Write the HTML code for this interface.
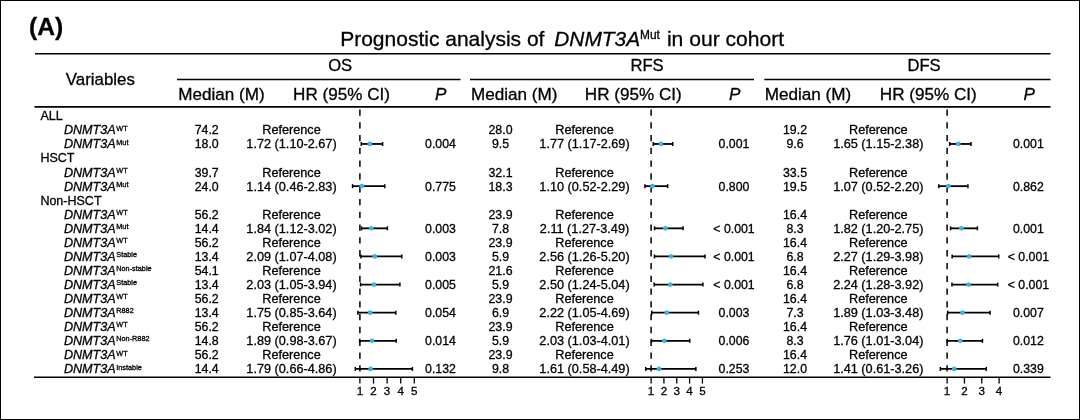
<!DOCTYPE html>
<html><head><meta charset="utf-8"><title>Prognostic analysis of DNMT3A</title>
<style>html,body{margin:0;padding:0;background:#fff;}body{width:1080px;height:420px;overflow:hidden;}svg{display:block;}</style>
</head><body>
<svg width="1080" height="420" viewBox="0 0 1080 420" font-family='"Liberation Sans", Arial, Helvetica, sans-serif'>
<style>text{stroke:#000;stroke-width:0.3px;paint-order:stroke;}</style>
<rect x="0" y="0" width="1080" height="420" fill="#fff"/>
<rect x="0.5" y="0.5" width="1079" height="419" fill="none" stroke="#000" stroke-width="1"/>
<text x="29.10" y="34.80" font-size="24.6" text-anchor="start" font-weight="bold">(A)</text>
<text x="340.20" y="45.70" font-size="21.0" text-anchor="start">Prognostic analysis of</text>
<text x="554.30" y="45.70" font-size="20.87" text-anchor="start" font-style="italic">DNMT3A</text>
<text x="640.00" y="38.50" font-size="11.9" text-anchor="start">Mut</text>
<text x="666.90" y="45.70" font-size="21.1" text-anchor="start">in our cohort</text>
<line x1="35.00" y1="53.80" x2="1050.50" y2="53.80" stroke="#000" stroke-width="1.6"/>
<line x1="177.00" y1="79.40" x2="460.50" y2="79.40" stroke="#000" stroke-width="1.5"/>
<line x1="470.00" y1="79.40" x2="754.00" y2="79.40" stroke="#000" stroke-width="1.5"/>
<line x1="764.30" y1="79.40" x2="1050.50" y2="79.40" stroke="#000" stroke-width="1.5"/>
<line x1="34.50" y1="106.90" x2="1050.50" y2="106.90" stroke="#000" stroke-width="1.6"/>
<line x1="34.00" y1="377.20" x2="1050.50" y2="377.20" stroke="#000" stroke-width="1.6"/>
<text x="65.80" y="85.00" font-size="16.87" text-anchor="start">Variables</text>
<text x="340.20" y="71.30" font-size="16.6" text-anchor="middle">OS</text>
<text x="647.00" y="71.30" font-size="16.6" text-anchor="middle">RFS</text>
<text x="924.00" y="71.30" font-size="16.6" text-anchor="middle">DFS</text>
<text x="221.50" y="100.00" font-size="17.1" text-anchor="middle">Median (M)</text>
<text x="514.20" y="100.00" font-size="17.1" text-anchor="middle">Median (M)</text>
<text x="808.00" y="100.00" font-size="17.1" text-anchor="middle">Median (M)</text>
<text x="341.50" y="100.00" font-size="17.1" text-anchor="middle">HR (95% CI)</text>
<text x="633.30" y="100.00" font-size="17.1" text-anchor="middle">HR (95% CI)</text>
<text x="928.30" y="100.00" font-size="17.1" text-anchor="middle">HR (95% CI)</text>
<text x="440.80" y="100.00" font-size="17.1" text-anchor="middle" font-style="italic">P</text>
<text x="734.60" y="100.00" font-size="17.1" text-anchor="middle" font-style="italic">P</text>
<text x="1029.30" y="100.00" font-size="17.1" text-anchor="middle" font-style="italic">P</text>
<text x="40.40" y="120.30" font-size="12.5" text-anchor="start">ALL</text>
<text x="63.90" y="134.36" font-size="12.6"><tspan font-style="italic">DNMT3A</tspan><tspan font-size="7.3" dx="0.6" dy="-3.8">WT</tspan></text>
<text x="206.70" y="134.36" font-size="12.35" text-anchor="middle">74.2</text>
<text x="291.50" y="134.36" font-size="12.7" text-anchor="middle">Reference</text>
<text x="500.50" y="134.36" font-size="12.35" text-anchor="middle">28.0</text>
<text x="584.50" y="134.36" font-size="12.7" text-anchor="middle">Reference</text>
<text x="795.00" y="134.36" font-size="12.35" text-anchor="middle">19.2</text>
<text x="878.30" y="134.36" font-size="12.7" text-anchor="middle">Reference</text>
<text x="63.90" y="148.42" font-size="12.6"><tspan font-style="italic">DNMT3A</tspan><tspan font-size="7.3" dx="0.6" dy="-3.8">Mut</tspan></text>
<text x="206.70" y="148.42" font-size="12.35" text-anchor="middle">18.0</text>
<text x="291.50" y="148.42" font-size="12.7" text-anchor="middle">1.72 (1.10-2.67)</text>
<text x="440.50" y="148.42" font-size="12.3" text-anchor="middle">0.004</text>
<text x="500.50" y="148.42" font-size="12.35" text-anchor="middle">9.5</text>
<text x="584.50" y="148.42" font-size="12.7" text-anchor="middle">1.77 (1.17-2.69)</text>
<text x="734.00" y="148.42" font-size="12.3" text-anchor="middle">0.001</text>
<text x="795.00" y="148.42" font-size="12.35" text-anchor="middle">9.6</text>
<text x="878.30" y="148.42" font-size="12.7" text-anchor="middle">1.65 (1.15-2.38)</text>
<text x="1028.40" y="148.42" font-size="12.3" text-anchor="middle">0.001</text>
<text x="40.40" y="162.48" font-size="12.5" text-anchor="start">HSCT</text>
<text x="63.90" y="176.54" font-size="12.6"><tspan font-style="italic">DNMT3A</tspan><tspan font-size="7.3" dx="0.6" dy="-3.8">WT</tspan></text>
<text x="206.70" y="176.54" font-size="12.35" text-anchor="middle">39.7</text>
<text x="291.50" y="176.54" font-size="12.7" text-anchor="middle">Reference</text>
<text x="500.50" y="176.54" font-size="12.35" text-anchor="middle">32.1</text>
<text x="584.50" y="176.54" font-size="12.7" text-anchor="middle">Reference</text>
<text x="795.00" y="176.54" font-size="12.35" text-anchor="middle">33.5</text>
<text x="878.30" y="176.54" font-size="12.7" text-anchor="middle">Reference</text>
<text x="63.90" y="190.60" font-size="12.6"><tspan font-style="italic">DNMT3A</tspan><tspan font-size="7.3" dx="0.6" dy="-3.8">Mut</tspan></text>
<text x="206.70" y="190.60" font-size="12.35" text-anchor="middle">24.0</text>
<text x="291.50" y="190.60" font-size="12.7" text-anchor="middle">1.14 (0.46-2.83)</text>
<text x="440.50" y="190.60" font-size="12.3" text-anchor="middle">0.775</text>
<text x="500.50" y="190.60" font-size="12.35" text-anchor="middle">18.3</text>
<text x="584.50" y="190.60" font-size="12.7" text-anchor="middle">1.10 (0.52-2.29)</text>
<text x="734.00" y="190.60" font-size="12.3" text-anchor="middle">0.800</text>
<text x="795.00" y="190.60" font-size="12.35" text-anchor="middle">19.5</text>
<text x="878.30" y="190.60" font-size="12.7" text-anchor="middle">1.07 (0.52-2.20)</text>
<text x="1028.40" y="190.60" font-size="12.3" text-anchor="middle">0.862</text>
<text x="40.40" y="204.66" font-size="12.5" text-anchor="start">Non-HSCT</text>
<text x="63.90" y="218.72" font-size="12.6"><tspan font-style="italic">DNMT3A</tspan><tspan font-size="7.3" dx="0.6" dy="-3.8">WT</tspan></text>
<text x="206.70" y="218.72" font-size="12.35" text-anchor="middle">56.2</text>
<text x="291.50" y="218.72" font-size="12.7" text-anchor="middle">Reference</text>
<text x="500.50" y="218.72" font-size="12.35" text-anchor="middle">23.9</text>
<text x="584.50" y="218.72" font-size="12.7" text-anchor="middle">Reference</text>
<text x="795.00" y="218.72" font-size="12.35" text-anchor="middle">16.4</text>
<text x="878.30" y="218.72" font-size="12.7" text-anchor="middle">Reference</text>
<text x="63.90" y="232.78" font-size="12.6"><tspan font-style="italic">DNMT3A</tspan><tspan font-size="7.3" dx="0.6" dy="-3.8">Mut</tspan></text>
<text x="206.70" y="232.78" font-size="12.35" text-anchor="middle">14.4</text>
<text x="291.50" y="232.78" font-size="12.7" text-anchor="middle">1.84 (1.12-3.02)</text>
<text x="440.50" y="232.78" font-size="12.3" text-anchor="middle">0.003</text>
<text x="500.50" y="232.78" font-size="12.35" text-anchor="middle">7.8</text>
<text x="584.50" y="232.78" font-size="12.7" text-anchor="middle">2.11 (1.27-3.49)</text>
<text x="734.00" y="232.78" font-size="12.3" text-anchor="middle">&lt; 0.001</text>
<text x="795.00" y="232.78" font-size="12.35" text-anchor="middle">8.3</text>
<text x="878.30" y="232.78" font-size="12.7" text-anchor="middle">1.82 (1.20-2.75)</text>
<text x="1028.40" y="232.78" font-size="12.3" text-anchor="middle">0.001</text>
<text x="63.90" y="246.84" font-size="12.6"><tspan font-style="italic">DNMT3A</tspan><tspan font-size="7.3" dx="0.6" dy="-3.8">WT</tspan></text>
<text x="206.70" y="246.84" font-size="12.35" text-anchor="middle">56.2</text>
<text x="291.50" y="246.84" font-size="12.7" text-anchor="middle">Reference</text>
<text x="500.50" y="246.84" font-size="12.35" text-anchor="middle">23.9</text>
<text x="584.50" y="246.84" font-size="12.7" text-anchor="middle">Reference</text>
<text x="795.00" y="246.84" font-size="12.35" text-anchor="middle">16.4</text>
<text x="878.30" y="246.84" font-size="12.7" text-anchor="middle">Reference</text>
<text x="63.90" y="260.90" font-size="12.6"><tspan font-style="italic">DNMT3A</tspan><tspan font-size="7.3" dx="0.6" dy="-3.8">Stable</tspan></text>
<text x="206.70" y="260.90" font-size="12.35" text-anchor="middle">13.4</text>
<text x="291.50" y="260.90" font-size="12.7" text-anchor="middle">2.09 (1.07-4.08)</text>
<text x="440.50" y="260.90" font-size="12.3" text-anchor="middle">0.003</text>
<text x="500.50" y="260.90" font-size="12.35" text-anchor="middle">5.9</text>
<text x="584.50" y="260.90" font-size="12.7" text-anchor="middle">2.56 (1.26-5.20)</text>
<text x="734.00" y="260.90" font-size="12.3" text-anchor="middle">&lt; 0.001</text>
<text x="795.00" y="260.90" font-size="12.35" text-anchor="middle">6.8</text>
<text x="878.30" y="260.90" font-size="12.7" text-anchor="middle">2.27 (1.29-3.98)</text>
<text x="1028.40" y="260.90" font-size="12.3" text-anchor="middle">&lt; 0.001</text>
<text x="63.90" y="274.96" font-size="12.6"><tspan font-style="italic">DNMT3A</tspan><tspan font-size="7.3" dx="0.6" dy="-3.8">Non-stable</tspan></text>
<text x="206.70" y="274.96" font-size="12.35" text-anchor="middle">54.1</text>
<text x="291.50" y="274.96" font-size="12.7" text-anchor="middle">Reference</text>
<text x="500.50" y="274.96" font-size="12.35" text-anchor="middle">21.6</text>
<text x="584.50" y="274.96" font-size="12.7" text-anchor="middle">Reference</text>
<text x="795.00" y="274.96" font-size="12.35" text-anchor="middle">16.4</text>
<text x="878.30" y="274.96" font-size="12.7" text-anchor="middle">Reference</text>
<text x="63.90" y="289.02" font-size="12.6"><tspan font-style="italic">DNMT3A</tspan><tspan font-size="7.3" dx="0.6" dy="-3.8">Stable</tspan></text>
<text x="206.70" y="289.02" font-size="12.35" text-anchor="middle">13.4</text>
<text x="291.50" y="289.02" font-size="12.7" text-anchor="middle">2.03 (1.05-3.94)</text>
<text x="440.50" y="289.02" font-size="12.3" text-anchor="middle">0.005</text>
<text x="500.50" y="289.02" font-size="12.35" text-anchor="middle">5.9</text>
<text x="584.50" y="289.02" font-size="12.7" text-anchor="middle">2.50 (1.24-5.04)</text>
<text x="734.00" y="289.02" font-size="12.3" text-anchor="middle">&lt; 0.001</text>
<text x="795.00" y="289.02" font-size="12.35" text-anchor="middle">6.8</text>
<text x="878.30" y="289.02" font-size="12.7" text-anchor="middle">2.24 (1.28-3.92)</text>
<text x="1028.40" y="289.02" font-size="12.3" text-anchor="middle">&lt; 0.001</text>
<text x="63.90" y="303.08" font-size="12.6"><tspan font-style="italic">DNMT3A</tspan><tspan font-size="7.3" dx="0.6" dy="-3.8">WT</tspan></text>
<text x="206.70" y="303.08" font-size="12.35" text-anchor="middle">56.2</text>
<text x="291.50" y="303.08" font-size="12.7" text-anchor="middle">Reference</text>
<text x="500.50" y="303.08" font-size="12.35" text-anchor="middle">23.9</text>
<text x="584.50" y="303.08" font-size="12.7" text-anchor="middle">Reference</text>
<text x="795.00" y="303.08" font-size="12.35" text-anchor="middle">16.4</text>
<text x="878.30" y="303.08" font-size="12.7" text-anchor="middle">Reference</text>
<text x="63.90" y="317.14" font-size="12.6"><tspan font-style="italic">DNMT3A</tspan><tspan font-size="7.3" dx="0.6" dy="-3.8">R882</tspan></text>
<text x="206.70" y="317.14" font-size="12.35" text-anchor="middle">13.4</text>
<text x="291.50" y="317.14" font-size="12.7" text-anchor="middle">1.75 (0.85-3.64)</text>
<text x="440.50" y="317.14" font-size="12.3" text-anchor="middle">0.054</text>
<text x="500.50" y="317.14" font-size="12.35" text-anchor="middle">6.9</text>
<text x="584.50" y="317.14" font-size="12.7" text-anchor="middle">2.22 (1.05-4.69)</text>
<text x="734.00" y="317.14" font-size="12.3" text-anchor="middle">0.003</text>
<text x="795.00" y="317.14" font-size="12.35" text-anchor="middle">7.3</text>
<text x="878.30" y="317.14" font-size="12.7" text-anchor="middle">1.89 (1.03-3.48)</text>
<text x="1028.40" y="317.14" font-size="12.3" text-anchor="middle">0.007</text>
<text x="63.90" y="331.20" font-size="12.6"><tspan font-style="italic">DNMT3A</tspan><tspan font-size="7.3" dx="0.6" dy="-3.8">WT</tspan></text>
<text x="206.70" y="331.20" font-size="12.35" text-anchor="middle">56.2</text>
<text x="291.50" y="331.20" font-size="12.7" text-anchor="middle">Reference</text>
<text x="500.50" y="331.20" font-size="12.35" text-anchor="middle">23.9</text>
<text x="584.50" y="331.20" font-size="12.7" text-anchor="middle">Reference</text>
<text x="795.00" y="331.20" font-size="12.35" text-anchor="middle">16.4</text>
<text x="878.30" y="331.20" font-size="12.7" text-anchor="middle">Reference</text>
<text x="63.90" y="345.26" font-size="12.6"><tspan font-style="italic">DNMT3A</tspan><tspan font-size="7.3" dx="0.6" dy="-3.8">Non-R882</tspan></text>
<text x="206.70" y="345.26" font-size="12.35" text-anchor="middle">14.8</text>
<text x="291.50" y="345.26" font-size="12.7" text-anchor="middle">1.89 (0.98-3.67)</text>
<text x="440.50" y="345.26" font-size="12.3" text-anchor="middle">0.014</text>
<text x="500.50" y="345.26" font-size="12.35" text-anchor="middle">5.9</text>
<text x="584.50" y="345.26" font-size="12.7" text-anchor="middle">2.03 (1.03-4.01)</text>
<text x="734.00" y="345.26" font-size="12.3" text-anchor="middle">0.006</text>
<text x="795.00" y="345.26" font-size="12.35" text-anchor="middle">8.3</text>
<text x="878.30" y="345.26" font-size="12.7" text-anchor="middle">1.76 (1.01-3.04)</text>
<text x="1028.40" y="345.26" font-size="12.3" text-anchor="middle">0.012</text>
<text x="63.90" y="359.32" font-size="12.6"><tspan font-style="italic">DNMT3A</tspan><tspan font-size="7.3" dx="0.6" dy="-3.8">WT</tspan></text>
<text x="206.70" y="359.32" font-size="12.35" text-anchor="middle">56.2</text>
<text x="291.50" y="359.32" font-size="12.7" text-anchor="middle">Reference</text>
<text x="500.50" y="359.32" font-size="12.35" text-anchor="middle">23.9</text>
<text x="584.50" y="359.32" font-size="12.7" text-anchor="middle">Reference</text>
<text x="795.00" y="359.32" font-size="12.35" text-anchor="middle">16.4</text>
<text x="878.30" y="359.32" font-size="12.7" text-anchor="middle">Reference</text>
<text x="63.90" y="373.38" font-size="12.6"><tspan font-style="italic">DNMT3A</tspan><tspan font-size="7.3" dx="0.6" dy="-3.8">Instable</tspan></text>
<text x="206.70" y="373.38" font-size="12.35" text-anchor="middle">14.4</text>
<text x="291.50" y="373.38" font-size="12.7" text-anchor="middle">1.79 (0.66-4.86)</text>
<text x="440.50" y="373.38" font-size="12.3" text-anchor="middle">0.132</text>
<text x="500.50" y="373.38" font-size="12.35" text-anchor="middle">9.8</text>
<text x="584.50" y="373.38" font-size="12.7" text-anchor="middle">1.61 (0.58-4.49)</text>
<text x="734.00" y="373.38" font-size="12.3" text-anchor="middle">0.253</text>
<text x="795.00" y="373.38" font-size="12.35" text-anchor="middle">12.0</text>
<text x="878.30" y="373.38" font-size="12.7" text-anchor="middle">1.41 (0.61-3.26)</text>
<text x="1028.40" y="373.38" font-size="12.3" text-anchor="middle">0.339</text>
<line x1="359.90" y1="109.40" x2="359.90" y2="372.20" stroke="#000" stroke-width="1.5" stroke-dasharray="6.3 6.49"/>
<line x1="359.90" y1="377.10" x2="359.90" y2="383.60" stroke="#000" stroke-width="1.3"/>
<text x="359.90" y="395.00" font-size="11.6" text-anchor="middle">1</text>
<line x1="373.50" y1="377.10" x2="373.50" y2="383.60" stroke="#000" stroke-width="1.3"/>
<text x="373.50" y="395.00" font-size="11.6" text-anchor="middle">2</text>
<line x1="387.10" y1="377.10" x2="387.10" y2="383.60" stroke="#000" stroke-width="1.3"/>
<text x="387.10" y="395.00" font-size="11.6" text-anchor="middle">3</text>
<line x1="400.70" y1="377.10" x2="400.70" y2="383.60" stroke="#000" stroke-width="1.3"/>
<text x="400.70" y="395.00" font-size="11.6" text-anchor="middle">4</text>
<line x1="414.30" y1="377.10" x2="414.30" y2="383.60" stroke="#000" stroke-width="1.3"/>
<text x="414.30" y="395.00" font-size="11.6" text-anchor="middle">5</text>
<line x1="361.26" y1="143.97" x2="382.61" y2="143.97" stroke="#000" stroke-width="1.8"/>
<line x1="361.26" y1="141.97" x2="361.26" y2="145.97" stroke="#000" stroke-width="1.5"/>
<line x1="382.61" y1="141.97" x2="382.61" y2="145.97" stroke="#000" stroke-width="1.5"/>
<line x1="352.56" y1="186.15" x2="384.79" y2="186.15" stroke="#000" stroke-width="1.8"/>
<line x1="352.56" y1="184.15" x2="352.56" y2="188.15" stroke="#000" stroke-width="1.5"/>
<line x1="384.79" y1="184.15" x2="384.79" y2="188.15" stroke="#000" stroke-width="1.5"/>
<line x1="361.53" y1="228.33" x2="387.37" y2="228.33" stroke="#000" stroke-width="1.8"/>
<line x1="361.53" y1="226.33" x2="361.53" y2="230.33" stroke="#000" stroke-width="1.5"/>
<line x1="387.37" y1="226.33" x2="387.37" y2="230.33" stroke="#000" stroke-width="1.5"/>
<line x1="360.85" y1="256.45" x2="401.79" y2="256.45" stroke="#000" stroke-width="1.8"/>
<line x1="360.85" y1="254.45" x2="360.85" y2="258.45" stroke="#000" stroke-width="1.5"/>
<line x1="401.79" y1="254.45" x2="401.79" y2="258.45" stroke="#000" stroke-width="1.5"/>
<line x1="360.58" y1="284.57" x2="399.88" y2="284.57" stroke="#000" stroke-width="1.8"/>
<line x1="360.58" y1="282.57" x2="360.58" y2="286.57" stroke="#000" stroke-width="1.5"/>
<line x1="399.88" y1="282.57" x2="399.88" y2="286.57" stroke="#000" stroke-width="1.5"/>
<line x1="357.86" y1="312.69" x2="395.80" y2="312.69" stroke="#000" stroke-width="1.8"/>
<line x1="357.86" y1="310.69" x2="357.86" y2="314.69" stroke="#000" stroke-width="1.5"/>
<line x1="395.80" y1="310.69" x2="395.80" y2="314.69" stroke="#000" stroke-width="1.5"/>
<line x1="359.63" y1="340.81" x2="396.21" y2="340.81" stroke="#000" stroke-width="1.8"/>
<line x1="359.63" y1="338.81" x2="359.63" y2="342.81" stroke="#000" stroke-width="1.5"/>
<line x1="396.21" y1="338.81" x2="396.21" y2="342.81" stroke="#000" stroke-width="1.5"/>
<line x1="355.28" y1="368.93" x2="412.40" y2="368.93" stroke="#000" stroke-width="1.8"/>
<line x1="355.28" y1="366.93" x2="355.28" y2="370.93" stroke="#000" stroke-width="1.5"/>
<line x1="412.40" y1="366.93" x2="412.40" y2="370.93" stroke="#000" stroke-width="1.5"/>
<line x1="651.10" y1="109.40" x2="651.10" y2="372.20" stroke="#000" stroke-width="1.5" stroke-dasharray="6.3 6.49"/>
<line x1="651.10" y1="377.10" x2="651.10" y2="383.60" stroke="#000" stroke-width="1.3"/>
<text x="651.10" y="395.00" font-size="11.6" text-anchor="middle">1</text>
<line x1="663.93" y1="377.10" x2="663.93" y2="383.60" stroke="#000" stroke-width="1.3"/>
<text x="663.93" y="395.00" font-size="11.6" text-anchor="middle">2</text>
<line x1="676.76" y1="377.10" x2="676.76" y2="383.60" stroke="#000" stroke-width="1.3"/>
<text x="676.76" y="395.00" font-size="11.6" text-anchor="middle">3</text>
<line x1="689.59" y1="377.10" x2="689.59" y2="383.60" stroke="#000" stroke-width="1.3"/>
<text x="689.59" y="395.00" font-size="11.6" text-anchor="middle">4</text>
<line x1="702.42" y1="377.10" x2="702.42" y2="383.60" stroke="#000" stroke-width="1.3"/>
<text x="702.42" y="395.00" font-size="11.6" text-anchor="middle">5</text>
<line x1="653.28" y1="143.97" x2="672.78" y2="143.97" stroke="#000" stroke-width="1.8"/>
<line x1="653.28" y1="141.97" x2="653.28" y2="145.97" stroke="#000" stroke-width="1.5"/>
<line x1="672.78" y1="141.97" x2="672.78" y2="145.97" stroke="#000" stroke-width="1.5"/>
<line x1="644.94" y1="186.15" x2="667.65" y2="186.15" stroke="#000" stroke-width="1.8"/>
<line x1="644.94" y1="184.15" x2="644.94" y2="188.15" stroke="#000" stroke-width="1.5"/>
<line x1="667.65" y1="184.15" x2="667.65" y2="188.15" stroke="#000" stroke-width="1.5"/>
<line x1="654.56" y1="228.33" x2="683.05" y2="228.33" stroke="#000" stroke-width="1.8"/>
<line x1="654.56" y1="226.33" x2="654.56" y2="230.33" stroke="#000" stroke-width="1.5"/>
<line x1="683.05" y1="226.33" x2="683.05" y2="230.33" stroke="#000" stroke-width="1.5"/>
<line x1="654.44" y1="256.45" x2="704.99" y2="256.45" stroke="#000" stroke-width="1.8"/>
<line x1="654.44" y1="254.45" x2="654.44" y2="258.45" stroke="#000" stroke-width="1.5"/>
<line x1="704.99" y1="254.45" x2="704.99" y2="258.45" stroke="#000" stroke-width="1.5"/>
<line x1="654.18" y1="284.57" x2="702.93" y2="284.57" stroke="#000" stroke-width="1.8"/>
<line x1="654.18" y1="282.57" x2="654.18" y2="286.57" stroke="#000" stroke-width="1.5"/>
<line x1="702.93" y1="282.57" x2="702.93" y2="286.57" stroke="#000" stroke-width="1.5"/>
<line x1="651.74" y1="312.69" x2="698.44" y2="312.69" stroke="#000" stroke-width="1.8"/>
<line x1="651.74" y1="310.69" x2="651.74" y2="314.69" stroke="#000" stroke-width="1.5"/>
<line x1="698.44" y1="310.69" x2="698.44" y2="314.69" stroke="#000" stroke-width="1.5"/>
<line x1="651.48" y1="340.81" x2="689.72" y2="340.81" stroke="#000" stroke-width="1.8"/>
<line x1="651.48" y1="338.81" x2="651.48" y2="342.81" stroke="#000" stroke-width="1.5"/>
<line x1="689.72" y1="338.81" x2="689.72" y2="342.81" stroke="#000" stroke-width="1.5"/>
<line x1="645.71" y1="368.93" x2="695.88" y2="368.93" stroke="#000" stroke-width="1.8"/>
<line x1="645.71" y1="366.93" x2="645.71" y2="370.93" stroke="#000" stroke-width="1.5"/>
<line x1="695.88" y1="366.93" x2="695.88" y2="370.93" stroke="#000" stroke-width="1.5"/>
<line x1="947.10" y1="109.40" x2="947.10" y2="372.20" stroke="#000" stroke-width="1.5" stroke-dasharray="6.3 6.49"/>
<line x1="947.10" y1="377.10" x2="947.10" y2="383.60" stroke="#000" stroke-width="1.3"/>
<text x="947.10" y="395.00" font-size="11.6" text-anchor="middle">1</text>
<line x1="964.43" y1="377.10" x2="964.43" y2="383.60" stroke="#000" stroke-width="1.3"/>
<text x="964.43" y="395.00" font-size="11.6" text-anchor="middle">2</text>
<line x1="981.76" y1="377.10" x2="981.76" y2="383.60" stroke="#000" stroke-width="1.3"/>
<text x="981.76" y="395.00" font-size="11.6" text-anchor="middle">3</text>
<line x1="999.09" y1="377.10" x2="999.09" y2="383.60" stroke="#000" stroke-width="1.3"/>
<text x="999.09" y="395.00" font-size="11.6" text-anchor="middle">4</text>
<line x1="949.70" y1="143.97" x2="971.02" y2="143.97" stroke="#000" stroke-width="1.8"/>
<line x1="949.70" y1="141.97" x2="949.70" y2="145.97" stroke="#000" stroke-width="1.5"/>
<line x1="971.02" y1="141.97" x2="971.02" y2="145.97" stroke="#000" stroke-width="1.5"/>
<line x1="938.78" y1="186.15" x2="967.90" y2="186.15" stroke="#000" stroke-width="1.8"/>
<line x1="938.78" y1="184.15" x2="938.78" y2="188.15" stroke="#000" stroke-width="1.5"/>
<line x1="967.90" y1="184.15" x2="967.90" y2="188.15" stroke="#000" stroke-width="1.5"/>
<line x1="950.57" y1="228.33" x2="977.43" y2="228.33" stroke="#000" stroke-width="1.8"/>
<line x1="950.57" y1="226.33" x2="950.57" y2="230.33" stroke="#000" stroke-width="1.5"/>
<line x1="977.43" y1="226.33" x2="977.43" y2="230.33" stroke="#000" stroke-width="1.5"/>
<line x1="952.13" y1="256.45" x2="998.74" y2="256.45" stroke="#000" stroke-width="1.8"/>
<line x1="952.13" y1="254.45" x2="952.13" y2="258.45" stroke="#000" stroke-width="1.5"/>
<line x1="998.74" y1="254.45" x2="998.74" y2="258.45" stroke="#000" stroke-width="1.5"/>
<line x1="951.95" y1="284.57" x2="997.70" y2="284.57" stroke="#000" stroke-width="1.8"/>
<line x1="951.95" y1="282.57" x2="951.95" y2="286.57" stroke="#000" stroke-width="1.5"/>
<line x1="997.70" y1="282.57" x2="997.70" y2="286.57" stroke="#000" stroke-width="1.5"/>
<line x1="947.62" y1="312.69" x2="990.08" y2="312.69" stroke="#000" stroke-width="1.8"/>
<line x1="947.62" y1="310.69" x2="947.62" y2="314.69" stroke="#000" stroke-width="1.5"/>
<line x1="990.08" y1="310.69" x2="990.08" y2="314.69" stroke="#000" stroke-width="1.5"/>
<line x1="947.27" y1="340.81" x2="982.45" y2="340.81" stroke="#000" stroke-width="1.8"/>
<line x1="947.27" y1="338.81" x2="947.27" y2="342.81" stroke="#000" stroke-width="1.5"/>
<line x1="982.45" y1="338.81" x2="982.45" y2="342.81" stroke="#000" stroke-width="1.5"/>
<line x1="940.34" y1="368.93" x2="986.27" y2="368.93" stroke="#000" stroke-width="1.8"/>
<line x1="940.34" y1="366.93" x2="940.34" y2="370.93" stroke="#000" stroke-width="1.5"/>
<line x1="986.27" y1="366.93" x2="986.27" y2="370.93" stroke="#000" stroke-width="1.5"/>
<circle cx="369.69" cy="143.97" r="2.35" fill="#37b6e0"/>
<circle cx="361.80" cy="186.15" r="2.35" fill="#37b6e0"/>
<circle cx="371.32" cy="228.33" r="2.35" fill="#37b6e0"/>
<circle cx="374.72" cy="256.45" r="2.35" fill="#37b6e0"/>
<circle cx="373.91" cy="284.57" r="2.35" fill="#37b6e0"/>
<circle cx="370.10" cy="312.69" r="2.35" fill="#37b6e0"/>
<circle cx="372.00" cy="340.81" r="2.35" fill="#37b6e0"/>
<circle cx="370.64" cy="368.93" r="2.35" fill="#37b6e0"/>
<circle cx="660.98" cy="143.97" r="2.35" fill="#37b6e0"/>
<circle cx="652.38" cy="186.15" r="2.35" fill="#37b6e0"/>
<circle cx="665.34" cy="228.33" r="2.35" fill="#37b6e0"/>
<circle cx="671.11" cy="256.45" r="2.35" fill="#37b6e0"/>
<circle cx="670.35" cy="284.57" r="2.35" fill="#37b6e0"/>
<circle cx="666.75" cy="312.69" r="2.35" fill="#37b6e0"/>
<circle cx="664.31" cy="340.81" r="2.35" fill="#37b6e0"/>
<circle cx="658.93" cy="368.93" r="2.35" fill="#37b6e0"/>
<circle cx="958.36" cy="143.97" r="2.35" fill="#37b6e0"/>
<circle cx="948.31" cy="186.15" r="2.35" fill="#37b6e0"/>
<circle cx="961.31" cy="228.33" r="2.35" fill="#37b6e0"/>
<circle cx="969.11" cy="256.45" r="2.35" fill="#37b6e0"/>
<circle cx="968.59" cy="284.57" r="2.35" fill="#37b6e0"/>
<circle cx="962.52" cy="312.69" r="2.35" fill="#37b6e0"/>
<circle cx="960.27" cy="340.81" r="2.35" fill="#37b6e0"/>
<circle cx="954.21" cy="368.93" r="2.35" fill="#37b6e0"/>
</svg>
</body></html>
